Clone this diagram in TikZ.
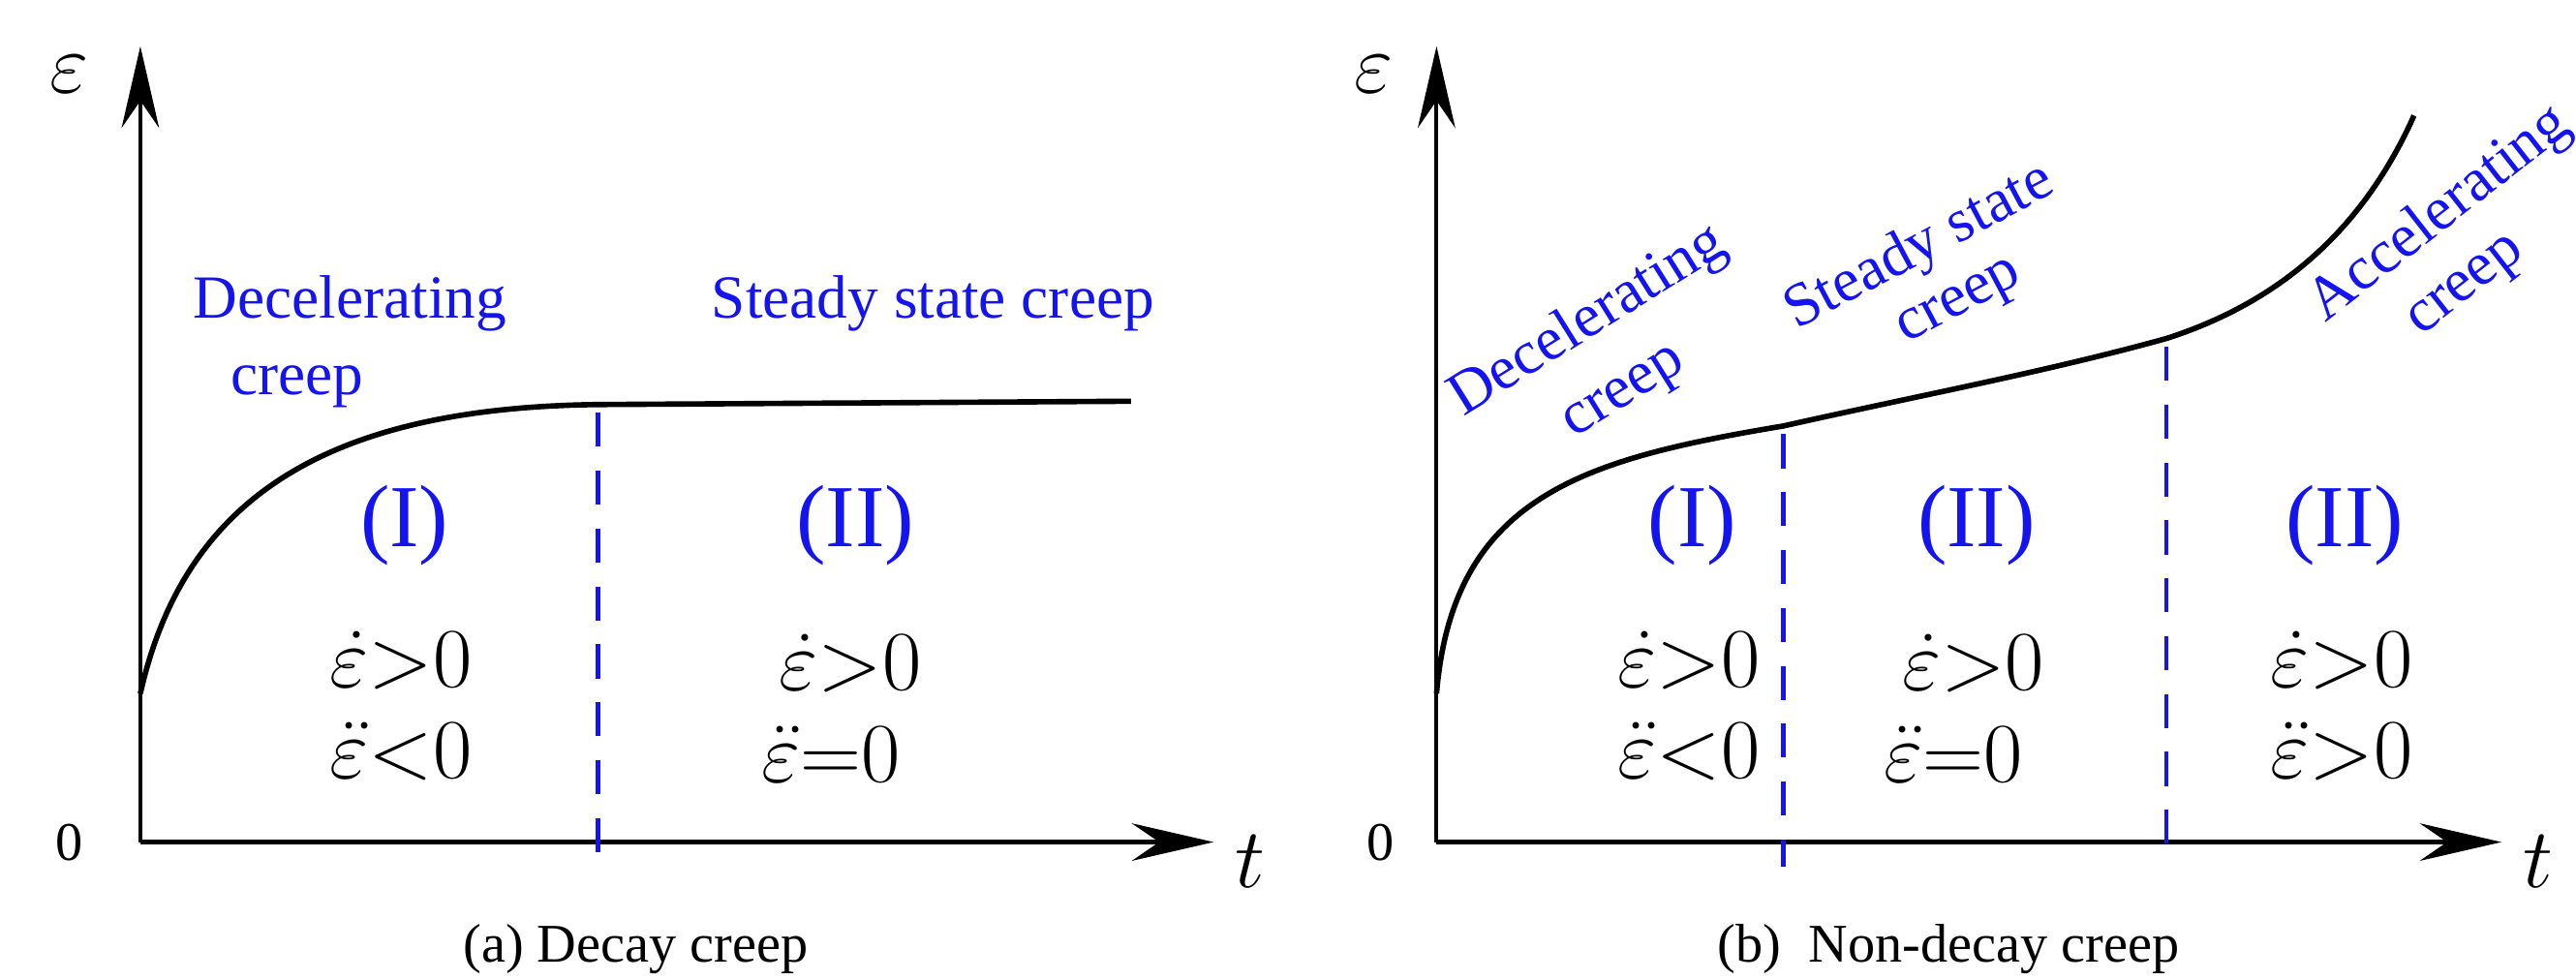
\documentclass[tikz,border=0pt]{standalone}
\usepackage{fontspec}
\setmainfont{Liberation Serif}
\usetikzlibrary{arrows.meta}
\definecolor{lb}{RGB}{20,20,240}
\begin{document}
\begin{tikzpicture}[x=0.01705cm,y=-0.01705cm,
  ax/.style={line width=1.2pt,-{Stealth[length=24pt,width=11pt,inset=8pt]}},
  crv/.style={line width=1.6pt},
  dsh/.style={draw=lb,line width=1.3pt,dash pattern=on 10pt off 7pt},
  blue/.style={text=lb,font=\fontsize{18}{20}\selectfont,align=center,inner sep=0pt},
  rom/.style={text=lb,font=\fontsize{26}{28}\selectfont,inner sep=0pt},
  mth/.style={font=\fontsize{26}{28}\selectfont,inner sep=0pt},
  captxt/.style={font=\fontsize{16}{18}\selectfont,inner sep=0pt}]
\useasboundingbox (0,0) rectangle (1560.1,593.5);
% left
\coordinate (o1) at (85,510);
\coordinate (y1) at (85,28);
\coordinate (x1) at (735,510);
\draw[ax] (o1) -- (y1);
\draw[ax] (o1) -- (x1);
\node[font=\fontsize{24}{26}\selectfont] (e1) at (42,45) {$\varepsilon$};
\node[font=\fontsize{16}{18}\selectfont] (z1) at (42,510) {0};
\node[font=\fontsize{24}{26}\selectfont] (t1) at (757,522) {$t$};
\coordinate (c1a) at (85,420);
\coordinate (c1b) at (362,245);
\coordinate (c1c) at (685,243);
\draw[crv] (c1a) .. controls (112,300) and (200,247) .. (c1b) -- (c1c);
\coordinate (d1t) at (362,250);
\coordinate (d1b) at (362,525);
\draw[dsh] (d1t) -- (d1b);
\node[blue] (l1) at (212,184) {Decelerating};
\node[blue] (l2) at (180,234) {creep};
\node[blue] (l3) at (565,184) {Steady state creep};
\node[rom] (r1) at (245,318) {(I)};
\node[rom] (r2) at (518,318) {(II)};
\node[mth] (m1) at (243,400) {$\dot{\varepsilon}{>}0$};
\node[mth] (m2) at (243,455) {$\ddot{\varepsilon}{<}0$};
\node[mth] (m3) at (515,402) {$\dot{\varepsilon}{>}0$};
\node[mth] (m4) at (503,457) {$\ddot{\varepsilon}{=}0$};
\node[captxt] (cp1) at (385,575) {(a) Decay creep};
% right
\coordinate (o2) at (870,510);
\coordinate (y2) at (870,28);
\coordinate (x2) at (1515,510);
\draw[ax] (o2) -- (y2);
\draw[ax] (o2) -- (x2);
\node[font=\fontsize{24}{26}\selectfont] (e2) at (832,45) {$\varepsilon$};
\node[font=\fontsize{16}{18}\selectfont] (z2) at (836,510) {0};
\node[font=\fontsize{24}{26}\selectfont] (t2) at (1537,522) {$t$};
\coordinate (c2a) at (870,420);
\coordinate (c2b) at (1080,258);
\coordinate (c2c) at (1312,205);
\coordinate (c2d) at (1462,70);
\draw[crv] (c2a) .. controls (880,300) and (960,278) .. (c2b)
  .. controls (1160,240) and (1240,225) .. (c2c)
  .. controls (1390,180) and (1435,130) .. (c2d);
\coordinate (d2t) at (1080,263);
\coordinate (d2b) at (1080,525);
\draw[dsh] (d2t) -- (d2b);
\coordinate (d3t) at (1312,210);
\coordinate (d3b) at (1312,525);
\draw[dsh] (d3t) -- (d3b);
\node[blue,rotate=32] (q1) at (962,195) {Decelerating};
\node[blue,rotate=32] (q2) at (985,240) {creep};
\node[blue,rotate=28] (q3) at (1163,150) {Steady state};
\node[blue,rotate=28] (q4) at (1188,185) {creep};
\node[blue,rotate=38] (q5) at (1478,130) {Accelerating};
\node[blue,rotate=38] (q6) at (1495,175) {creep};
\node[rom] (r3) at (1025,318) {(I)};
\node[rom] (r4) at (1197,318) {(II)};
\node[rom] (r5) at (1420,318) {(II)};
\node[mth] (m5) at (1023,400) {$\dot{\varepsilon}{>}0$};
\node[mth] (m6) at (1023,455) {$\ddot{\varepsilon}{<}0$};
\node[mth] (m7) at (1195,402) {$\dot{\varepsilon}{>}0$};
\node[mth] (m8) at (1183,457) {$\ddot{\varepsilon}{=}0$};
\node[mth] (m9) at (1418,400) {$\dot{\varepsilon}{>}0$};
\node[mth] (m10) at (1418,455) {$\ddot{\varepsilon}{>}0$};
\node[captxt] (cp2) at (1180,575) {(b)\ \ Non-decay creep};
\end{tikzpicture}
\end{document}
